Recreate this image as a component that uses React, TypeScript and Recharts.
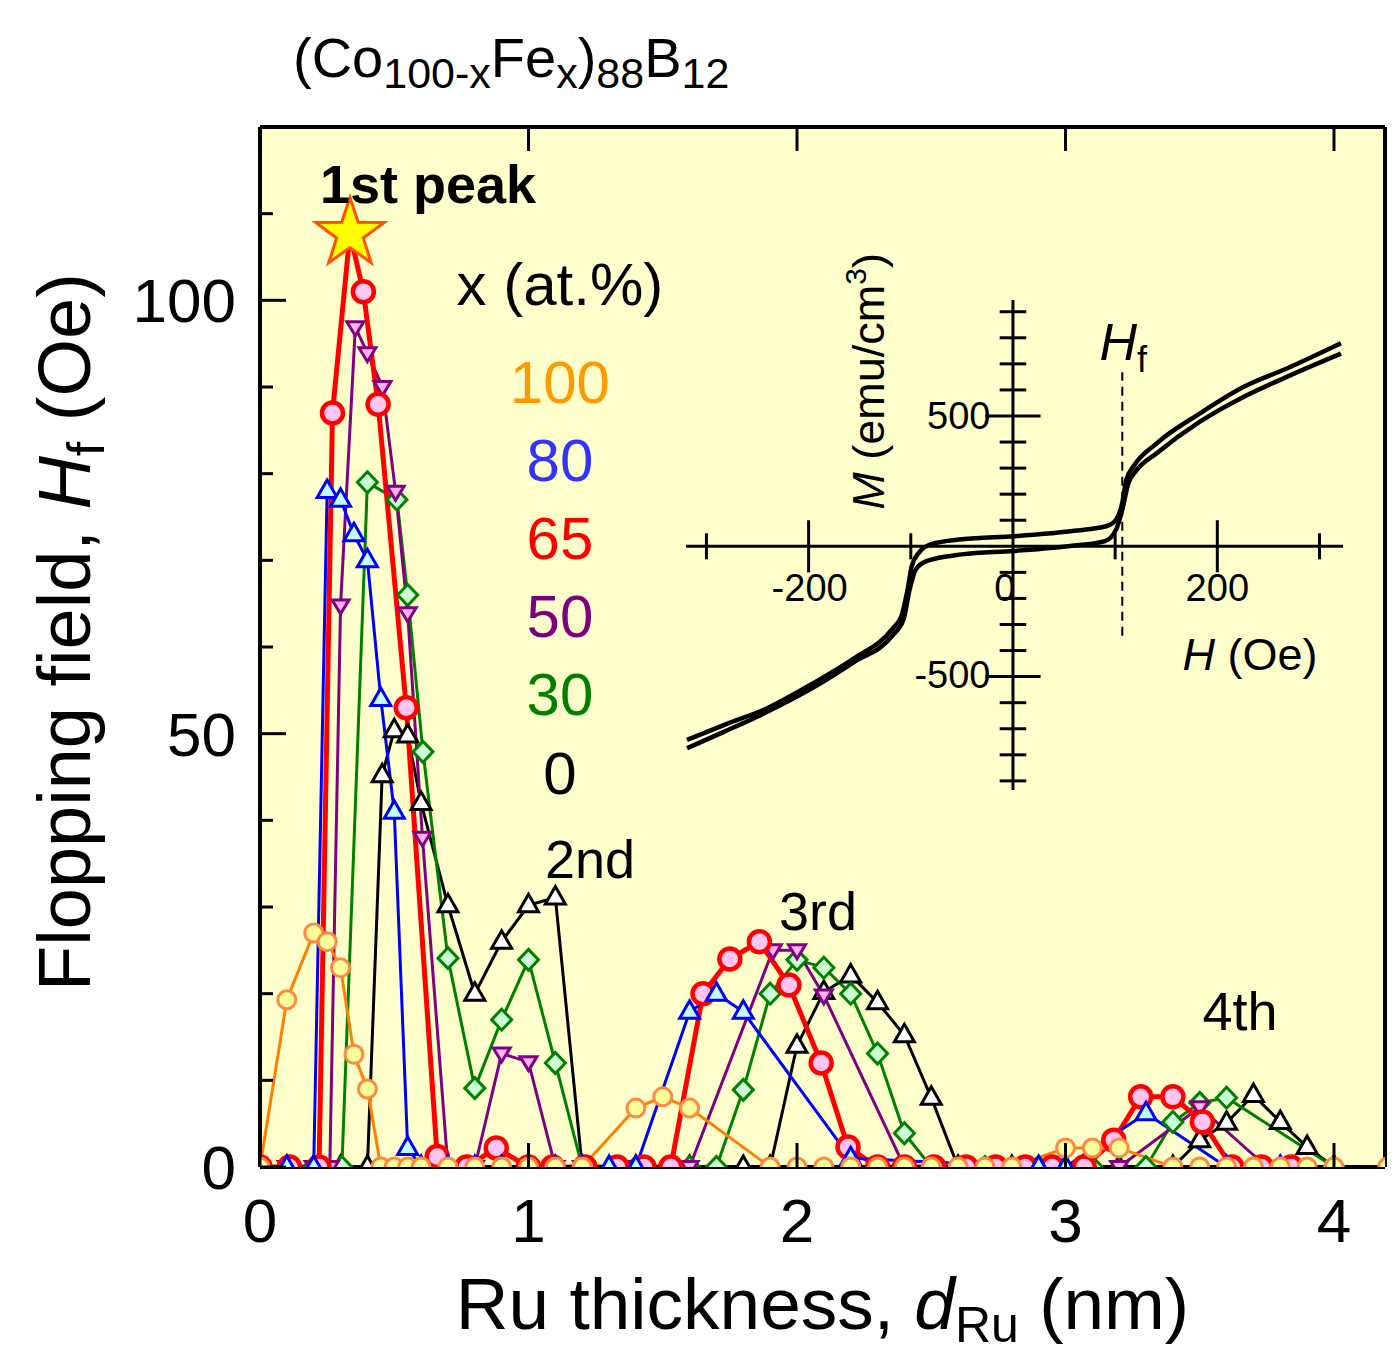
import React from 'react';
import {
  LineChart,
  Line,
  XAxis,
  YAxis,
  CartesianGrid,
  ReferenceDot,
  ReferenceLine,
} from 'recharts';

const FONT = '"Liberation Sans", Arial, sans-serif';

// Ru thickness d (nm) and flopping field Hf (Oe), one pair per Fe content x (at.%)
const d100 = [0, 0.1, 0.2, 0.25, 0.3, 0.35, 0.4, 0.45, 0.5, 0.55, 0.6, 0.7, 0.8, 0.9, 1.0, 1.1, 1.2, 1.4, 1.5, 1.6, 1.9, 2.0, 2.1, 2.2, 2.3, 2.4, 2.5, 2.6, 2.7, 2.8, 3.0, 3.1, 3.2, 3.4, 3.5, 3.6, 3.7, 3.8, 3.9, 4.0, 4.2];
const hf100 = [0, 19.3, 27, 26, 23, 13, 9, 0, 0, 0, 0, 0, 0, 0, 0, 0, 0, 6.8, 8.1, 6.8, 0, 0, 0, 0, 0, 0, 0, 0, 0, 0, 2.2, 2.2, 2.2, 0, 0, 0, 0, 0, 0, 0, 0];

const d80 = [0, 0.1, 0.2, 0.25, 0.3, 0.35, 0.4, 0.45, 0.5, 0.55, 0.6, 0.7, 0.8, 0.9, 1.0, 1.1, 1.2, 1.3, 1.4, 1.6, 1.7, 1.8, 2.2, 2.9, 3.0, 3.3, 3.6, 3.8, 4.0];
const hf80 = [0, 0, 0, 78, 77, 73, 70, 54, 41, 2.2, 0, 0, 0, 0, 0, 0, 0, 0, 0, 17.9, 20, 17.9, 1, 0, 0, 6.2, 0, 0, 0];

const d65 = [0, 0.11, 0.22, 0.27, 0.335, 0.385, 0.44, 0.545, 0.66, 0.77, 0.88, 1.0, 1.09, 1.21, 1.33, 1.43, 1.53, 1.65, 1.75, 1.86, 1.97, 2.09, 2.19, 2.3, 2.4, 2.51, 2.63, 2.74, 2.85, 2.95, 3.07, 3.18, 3.28, 3.4, 3.51, 3.62, 3.73, 3.84];
const hf65 = [0, 0, 0, 87, 107.7, 101, 88, 53, 1.2, 0, 2.2, 0, 0, 0, 0, 0, 0, 20, 24, 26, 21, 12, 2.3, 0, 0, 0, 0, 0, 0, 0, 0, 3.1, 8.1, 8.1, 5.2, 0, 0, 0];

const d50 = [0, 0.1, 0.2, 0.26, 0.3, 0.355, 0.4, 0.456, 0.505, 0.55, 0.605, 0.7, 0.8, 0.9, 1.0, 1.1, 1.2, 1.4, 1.6, 1.91, 2.0, 2.1, 2.4, 3.2, 3.5, 3.75];
const hf50 = [0, 0, 0, 0, 64.8, 96.9, 93.9, 90, 77.9, 63.9, 38, 0, 0, 13.1, 12.1, 0, 0, 0, 0, 25, 25, 19.8, 0, 0, 6.9, 0];

const d30 = [0, 0.1, 0.2, 0.305, 0.4, 0.51, 0.55, 0.607, 0.7, 0.8, 0.9, 1.0, 1.1, 1.2, 1.4, 1.6, 1.7, 1.8, 1.9, 2.0, 2.1, 2.2, 2.3, 2.4, 2.5, 2.7, 2.9, 3.1, 3.3, 3.4, 3.5, 3.6, 4.0];
const hf30 = [0, 0, 0, 0, 79, 77, 66, 47.9, 24.1, 9.1, 17, 23.9, 12, 0, 0, 0, 0, 8.9, 20, 23.9, 23, 20, 13.1, 3.9, 0, 0, 0, 0, 0, 5.2, 7.4, 8, 0];

const d0 = [0, 0.1, 0.2, 0.3, 0.4, 0.455, 0.5, 0.55, 0.6, 0.7, 0.8, 0.9, 1.0, 1.1, 1.2, 1.4, 1.6, 1.8, 1.9, 2.0, 2.1, 2.2, 2.3, 2.4, 2.5, 2.6, 2.8, 3.0, 3.2, 3.4, 3.5, 3.6, 3.7, 3.8, 3.9, 4.0];
const hf0 = [0, 0, 0, 0, 0, 45.2, 50.4, 49.8, 42, 30.2, 20, 26, 30.2, 31.1, 0, 0, 0, 0, 0, 14, 20.2, 22.1, 19, 15.2, 8, 0, 0, 0, 0, 0, 3.1, 5.1, 8.3, 5.2, 2.3, 0];

const xTicks = [0, 1, 2, 3, 4];
const yTicks = [0, 10, 20, 30, 40, 50, 60, 70, 80, 90, 100, 110];

// inset: M-H loop, H (Oe) and M (emu/cm3), two branches
const hDown = [-319, -283, -241, -199, -156, -118, -109, -103, -99, -92, -80, -50, 1, 56, 92, 101, 107, 111, 118, 141, 183, 226, 268, 321];
const mDown = [-743, -686, -622, -533, -431, -317, -266, -164, -75, -24, 8, 27, 39, 58, 78, 103, 167, 256, 307, 396, 510, 612, 682, 779];
const hUp = [-319, -283, -241, -199, -156, -118, -107, -101, -95, -84, -50, 1, 56, 90, 101, 107, 113, 120, 141, 183, 226, 268, 321];
const mUp = [-775, -712, -636, -550, -445, -343, -279, -164, -88, -56, -31, -18, 1, 20, 65, 141, 243, 287, 358, 478, 574, 650, 739];
const hTicks = [-300, -200, -100, 100, 200, 300];
const mTicks = [-900, -800, -700, -600, -500, -400, -300, -200, -100, 100, 200, 300, 400, 500, 600, 700, 800, 900];
const hFlop = 107;

const zip = (xs: number[], ys: number[]) => xs.map((d, i) => ({ d, hf: ys[i] }));
const s100 = zip(d100, hf100);
const s80 = zip(d80, hf80);
const s65 = zip(d65, hf65);
const s50 = zip(d50, hf50);
const s30 = zip(d30, hf30);
const s0 = zip(d0, hf0);
const loopDown = hDown.map((h, i) => ({ h, m: mDown[i] }));
const loopUp = hUp.map((h, i) => ({ h, m: mUp[i] }));
const peakIndex = hf65.indexOf(Math.max(...hf65));

function starPoints(cx: number, cy: number, ro: number, ri: number) {
  const pts: string[] = [];
  for (let i = 0; i < 10; i++) {
    const a = -Math.PI / 2 + (i * Math.PI) / 5;
    const r = i % 2 === 0 ? ro : ri;
    pts.push(`${cx + r * Math.cos(a)},${cy + r * Math.sin(a)}`);
  }
  return pts.join(' ');
}

const circleDot = (r: number, fill: string, stroke: string, sw: number) => (p: any) => (
  <circle key={`c-${p.index}`} cx={p.cx} cy={p.cy} r={r} fill={fill} stroke={stroke} strokeWidth={sw} />
);

const redDot = (p: any) =>
  p.index === peakIndex ? (
    <polygon key={`s-${p.index}`} points={starPoints(p.cx, p.cy, 36, 14)} fill="#FFFF00" stroke="#FF5000" strokeWidth={3} />
  ) : (
    <circle key={`c-${p.index}`} cx={p.cx} cy={p.cy} r={10.5} fill="#FFC4F2" stroke="#FF0000" strokeWidth={4.5} />
  );

const triUp = (fill: string, stroke: string) => (p: any) => (
  <polygon
    key={`t-${p.index}`}
    points={`${p.cx},${p.cy - 11} ${p.cx - 10},${p.cy + 6.5} ${p.cx + 10},${p.cy + 6.5}`}
    fill={fill}
    stroke={stroke}
    strokeWidth={3}
  />
);

const triDown = (fill: string, stroke: string) => (p: any) => (
  <polygon
    key={`v-${p.index}`}
    points={`${p.cx - 8.5},${p.cy - 5.5} ${p.cx + 8.5},${p.cy - 5.5} ${p.cx},${p.cy + 8.5}`}
    fill={fill}
    stroke={stroke}
    strokeWidth={3}
  />
);

const diamond = (fill: string, stroke: string) => (p: any) => (
  <polygon
    key={`g-${p.index}`}
    points={`${p.cx},${p.cy - 10.5} ${p.cx + 10},${p.cy} ${p.cx},${p.cy + 10.5} ${p.cx - 10},${p.cy}`}
    fill={fill}
    stroke={stroke}
    strokeWidth={3}
  />
);

const BottomTick = (p: any) => (
  <g>
    <line x1={p.x} x2={p.x} y1={p.y} y2={p.y - 24} stroke="#000" strokeWidth={3} />
    <text x={p.x} y={p.y + 75} textAnchor="middle" fontSize={62} fontFamily={FONT} fill="#000">
      {p.payload.value}
    </text>
  </g>
);

const TopTick = (p: any) => (
  <line x1={p.x} x2={p.x} y1={p.y} y2={p.y + 24} stroke="#000" strokeWidth={3} />
);

const LeftTick = (p: any) => {
  const v = p.payload.value;
  const major = v % 50 === 0;
  return (
    <g>
      <line x1={p.x} x2={p.x + (major ? 26 : 13)} y1={p.y} y2={p.y} stroke="#000" strokeWidth={3} />
      {major && (
        <text x={p.x - 24} y={p.y + 22} textAnchor="end" fontSize={62} fontFamily={FONT} fill="#000">
          {v}
        </text>
      )}
    </g>
  );
};

const RightTick = (p: any) => {
  const major = p.payload.value % 50 === 0;
  return <line x1={p.x} x2={p.x - (major ? 26 : 13)} y1={p.y} y2={p.y} stroke="#000" strokeWidth={3} />;
};

// text placed at a data point, centred on it
const note =
  (content: React.ReactNode, size: number, color = '#000', extra: any = {}) =>
  (p: any) => {
    const vb = p.viewBox || { x: 0, y: 0, width: 0, height: 0 };
    const cx = vb.x + (vb.width || 0) / 2;
    const cy = vb.y + (vb.height || 0) / 2;
    return (
      <text
        x={cx}
        y={cy + size * 0.36}
        textAnchor={extra.anchor || 'middle'}
        fontSize={size}
        fontFamily={FONT}
        fontWeight={extra.bold ? 'bold' : 'normal'}
        fill={color}
        transform={extra.rotate ? `rotate(-90, ${cx}, ${cy})` : undefined}
      >
        {content}
      </text>
    );
  };

const mainNotes: { d: number; hf: number; content: React.ReactNode; size: number; color?: string; bold?: boolean }[] = [
  { d: 0.626, hf: 113.5, content: '1st peak', size: 54, bold: true },
  { d: 1.117, hf: 102, content: 'x (at.%)', size: 60 },
  { d: 1.117, hf: 90.7, content: '100', size: 60, color: '#FF9900' },
  { d: 1.117, hf: 81.7, content: '80', size: 60, color: '#3333FF' },
  { d: 1.117, hf: 72.6, content: '65', size: 60, color: '#FF0000' },
  { d: 1.117, hf: 63.7, content: '50', size: 60, color: '#7F007F' },
  { d: 1.117, hf: 54.7, content: '30', size: 60, color: '#007F00' },
  { d: 1.117, hf: 45.5, content: '0', size: 60 },
  { d: 1.229, hf: 35.6, content: '2nd', size: 54 },
  { d: 2.078, hf: 29.6, content: '3rd', size: 54 },
  { d: 3.65, hf: 18, content: '4th', size: 54 },
];

const YTitle = (p: any) => {
  const vb = p.viewBox;
  const x = 90;
  const y = vb.y + vb.height / 2 - 15;
  return (
    <text x={x} y={y} textAnchor="middle" fontSize={74} fontFamily={FONT} fill="#000" transform={`rotate(-90, ${x}, ${y})`}>
      Flopping field,{' '}
      <tspan fontStyle="italic">H</tspan>
      <tspan fontSize={52} dy={14}>f</tspan>
      <tspan dy={-14}> (Oe)</tspan>
    </text>
  );
};

const XTitle = (p: any) => {
  const vb = p.viewBox;
  return (
    <text x={vb.x + vb.width / 2} y={vb.y + 162} textAnchor="middle" fontSize={73} fontFamily={FONT} fill="#000">
      Ru thickness, <tspan fontStyle="italic">d</tspan>
      <tspan fontSize={50} dy={13}>Ru</tspan>
      <tspan dy={-13}> (nm)</tspan>
    </text>
  );
};

const Title = (p: any) => {
  const vb = p.viewBox;
  return (
    <text x={vb.x + 33} y={vb.y + 77} fontSize={56} fontFamily={FONT} fill="#000">
      (Co<tspan fontSize={43} dy={11}>100-x</tspan>
      <tspan dy={-11}>Fe</tspan>
      <tspan fontSize={43} dy={11}>x</tspan>
      <tspan dy={-11}>)</tspan>
      <tspan fontSize={43} dy={11}>88</tspan>
      <tspan dy={-11}>B</tspan>
      <tspan fontSize={43} dy={11}>12</tspan>
    </text>
  );
};

function Inset() {
  return (
    <LineChart width={717} height={560} margin={{ top: 60, right: 60, bottom: 10, left: 0 }}>
      <XAxis type="number" dataKey="h" domain={[-320, 323]} hide allowDataOverflow />
      <YAxis type="number" dataKey="m" domain={[-935, 945]} hide allowDataOverflow />
      <ReferenceLine y={0} stroke="#000" strokeWidth={3} />
      <ReferenceLine x={0} stroke="#000" strokeWidth={3} />
      {hTicks.map((h) => (
        <ReferenceLine
          key={`ht${h}`}
          segment={[
            { x: h, y: Math.abs(h) === 200 ? -100 : -50 },
            { x: h, y: Math.abs(h) === 200 ? 100 : 50 },
          ]}
          stroke="#000"
          strokeWidth={3}
        />
      ))}
      {mTicks.map((m) => (
        <ReferenceLine
          key={`mt${m}`}
          segment={[
            { x: Math.abs(m) === 500 ? -27 : -13, y: m },
            { x: Math.abs(m) === 500 ? 27 : 13, y: m },
          ]}
          stroke="#000"
          strokeWidth={3}
        />
      ))}
      <ReferenceLine
        segment={[
          { x: hFlop, y: -343 },
          { x: hFlop, y: 668 },
        ]}
        stroke="#000"
        strokeWidth={2}
        strokeDasharray="9 6"
      />
      <Line data={loopDown} dataKey="m" type="monotone" stroke="#000" strokeWidth={4.5} dot={false} isAnimationActive={false} />
      <Line data={loopUp} dataKey="m" type="monotone" stroke="#000" strokeWidth={4.5} dot={false} isAnimationActive={false} />
      <ReferenceDot x={-199} y={-157} r={1} fill="none" stroke="none" label={note('-200', 38)} />
      <ReferenceDot x={-8} y={-157} r={1} fill="none" stroke="none" label={note('0', 38)} />
      <ReferenceDot x={200} y={-157} r={1} fill="none" stroke="none" label={note('200', 38)} />
      <ReferenceDot x={-22} y={503} r={1} fill="none" stroke="none" label={note('500', 38, '#000', { anchor: 'end' })} />
      <ReferenceDot x={-22} y={-490} r={1} fill="none" stroke="none" label={note('-500', 38, '#000', { anchor: 'end' })} />
      <ReferenceDot
        x={232}
        y={-414}
        r={1}
        fill="none"
        stroke="none"
        label={note(
          <>
            <tspan fontStyle="italic">H</tspan> (Oe)
          </>,
          45
        )}
      />
      <ReferenceDot
        x={108}
        y={785}
        r={1}
        fill="none"
        stroke="none"
        label={note(
          <>
            <tspan fontStyle="italic">H</tspan>
            <tspan fontSize={36} dy={12}>f</tspan>
          </>,
          52
        )}
      />
      <ReferenceDot
        x={-142}
        y={633}
        r={1}
        fill="none"
        stroke="none"
        label={note(
          <>
            <tspan fontStyle="italic">M</tspan> (emu/cm<tspan fontSize={30} dy={-18}>3</tspan>
            <tspan dy={18}>)</tspan>
          </>,
          45,
          '#000',
          { rotate: true }
        )}
      />
    </LineChart>
  );
}

export default function App() {
  return (
    <div style={{ position: 'relative', width: 1393, height: 1355, background: '#fff' }}>
      <style>{'body{margin:0;}'}</style>
      <LineChart width={1393} height={1355} margin={{ top: 0, right: 0, bottom: 0, left: 0 }}>
        <CartesianGrid xAxisId="b" yAxisId="l" fill="#FFFFCC" stroke="none" horizontal={false} vertical={false} />
        <XAxis
          xAxisId="b"
          type="number"
          dataKey="d"
          domain={[0, 4.19]}
          ticks={xTicks}
          height={188}
          tickSize={0}
          tickMargin={0}
          tickLine={false}
          axisLine={{ stroke: '#000', strokeWidth: 4 }}
          tick={BottomTick}
          allowDataOverflow
          label={XTitle}
        />
        <XAxis
          xAxisId="t"
          orientation="top"
          type="number"
          dataKey="d"
          domain={[0, 4.19]}
          ticks={[1, 2, 3, 4]}
          height={127}
          tickSize={0}
          tickMargin={0}
          tickLine={false}
          axisLine={{ stroke: '#000', strokeWidth: 4 }}
          tick={TopTick}
          allowDataOverflow
          label={Title}
        />
        <YAxis
          yAxisId="l"
          type="number"
          domain={[0, 120]}
          ticks={yTicks}
          width={260}
          tickSize={0}
          tickMargin={0}
          tickLine={false}
          axisLine={{ stroke: '#000', strokeWidth: 4 }}
          tick={LeftTick}
          allowDataOverflow
          interval={0}
          label={YTitle}
        />
        <YAxis
          yAxisId="r"
          orientation="right"
          type="number"
          domain={[0, 120]}
          ticks={yTicks.slice(1)}
          width={8}
          tickSize={0}
          tickMargin={0}
          tickLine={false}
          axisLine={{ stroke: '#000', strokeWidth: 4 }}
          tick={RightTick}
          interval={0}
        />
        <Line xAxisId="b" yAxisId="l" data={s0} dataKey="hf" stroke="#000" strokeWidth={3} dot={triUp('#FFFFFF', '#000')} isAnimationActive={false} />
        <Line xAxisId="b" yAxisId="l" data={s30} dataKey="hf" stroke="#008000" strokeWidth={3} dot={diamond('#CCFFD6', '#008000')} isAnimationActive={false} />
        <Line xAxisId="b" yAxisId="l" data={s50} dataKey="hf" stroke="#800080" strokeWidth={3} dot={triDown('#FFB4F4', '#800080')} isAnimationActive={false} />
        <Line xAxisId="b" yAxisId="l" data={s65} dataKey="hf" stroke="#FF0000" strokeWidth={5} dot={redDot} isAnimationActive={false} />
        <Line xAxisId="b" yAxisId="l" data={s80} dataKey="hf" stroke="#0000FF" strokeWidth={3} dot={triUp('#C4FFFF', '#0000FF')} isAnimationActive={false} />
        <Line xAxisId="b" yAxisId="l" data={s100} dataKey="hf" stroke="#FF8000" strokeWidth={3} dot={circleDot(9, '#FFFF99', '#FF8844', 3)} isAnimationActive={false} />
        {mainNotes.map((n, i) => (
          <ReferenceDot
            key={`n${i}`}
            xAxisId="b"
            yAxisId="l"
            x={n.d}
            y={n.hf}
            r={1}
            fill="none"
            stroke="none"
            label={note(n.content, n.size, n.color, { bold: n.bold })}
          />
        ))}
      </LineChart>
      <div style={{ position: 'absolute', left: 686, top: 240, width: 717, height: 560 }}>
        <Inset />
      </div>
    </div>
  );
}
